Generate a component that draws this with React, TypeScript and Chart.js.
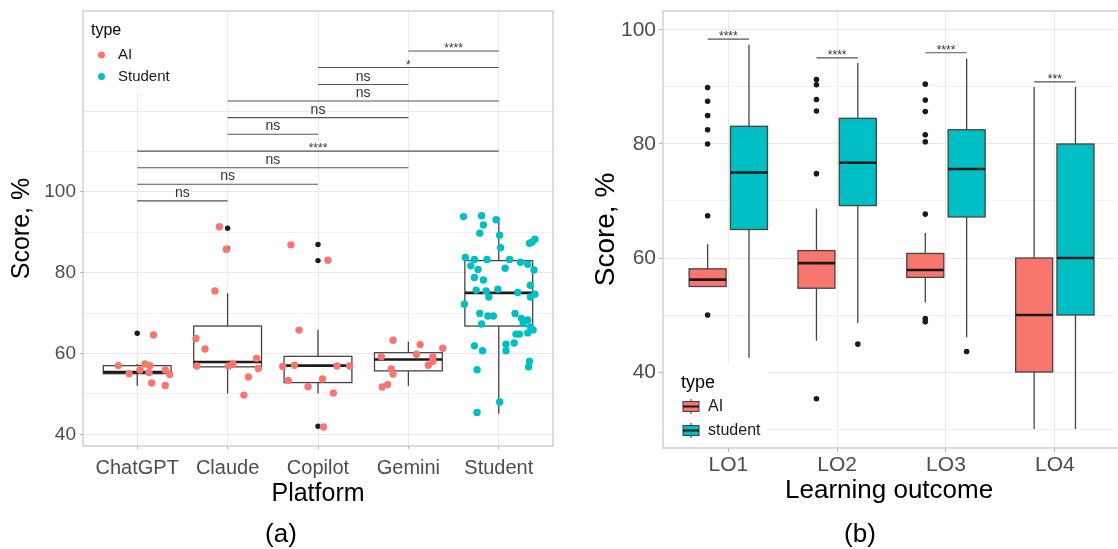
import React, { useEffect, useRef } from 'react';
import { Chart, registerables } from 'chart.js';

Chart.register(...registerables);

const FONT = "'Liberation Sans', Arial, Helvetica, sans-serif";
const AI_COLOR = '#F8766D';
const STU_COLOR = '#00BFC4';

// ---------- Panel (a) data ----------
const platforms = ['ChatGPT', 'Claude', 'Copilot', 'Gemini', 'Student'];
const boxLowA = [52.0, 50.1, 50.1, 52.0, 45.1];
const boxQ1A = [55.0, 56.7, 52.8, 55.7, 66.8];
const boxMedA = [55.4, 57.9, 57.0, 58.5, 75.0];
const boxQ3A = [57.0, 66.8, 59.3, 60.2, 83.0];
const boxHighA = [57.4, 74.9, 65.9, 62.9, 93.7];
const outliersA = [[65.0], [91.0, 86.0], [87.0, 83.0, 42.0], [], []];

const chatgptScores = [57.0, 55.0, 55.9, 57.4, 57.0, 55.3, 52.7, 64.6, 55.9, 52.1, 54.8];
const chatgptJitter = [-0.21, -0.09, 0.03, 0.085, 0.14, 0.13, 0.16, 0.18, 0.31, 0.31, 0.36];
const claudeScores = [63.7, 61.1, 56.9, 75.5, 91.4, 85.8, 56.9, 57.4, 49.7, 54.2, 58.8, 56.3];
const claudeJitter = [-0.35, -0.25, -0.34, -0.14, -0.09, -0.015, 0.01, 0.06, 0.18, 0.23, 0.32, 0.34];
const copilotScores = [56.8, 53.3, 86.9, 57.1, 65.8, 51.8, 53.7, 41.8, 83.1, 50.2, 56.9, 56.9];
const copilotJitter = [-0.39, -0.33, -0.30, -0.26, -0.21, -0.11, 0.05, 0.06, 0.11, 0.17, 0.21, 0.35];
const geminiScores = [59.2, 51.7, 52.3, 56.2, 54.9, 63.3, 59.8, 62.2, 57.1, 58.1, 59.2, 61.3];
const geminiJitter = [-0.30, -0.29, -0.23, -0.19, -0.17, -0.17, 0.09, 0.13, 0.22, 0.27, 0.27, 0.38];
const studentScores = [
  93.9, 94.1, 91.8, 93.1, 89.8, 89.3, 86.2, 87.3, 87.6, 88.3,
  83.8, 83.3, 83.3, 83.3, 82.6, 82.1, 81.7, 80.8, 81.1, 80.7,
  78.8, 78.2, 76.9, 75.7, 75.5, 75.9, 75.1, 74.0, 74.0, 74.7,
  72.2, 69.9, 69.3, 69.3, 69.9, 68.7, 68.3, 67.3, 67.4, 66.6,
  65.8, 64.8, 64.8, 65.1, 61.9, 60.7, 62.3, 60.7, 62.6, 58.1,
  56.7, 56.0, 48.0, 45.4,
];
const studentJitter = [
  -0.39, -0.19, -0.17, -0.03, -0.21, 0.01, 0.02, 0.34, 0.37, 0.40,
  -0.37, -0.27, -0.13, 0.12, 0.24, 0.32, -0.31, -0.23, 0.07, 0.39,
  -0.27, -0.17, 0.35, -0.25, -0.14, -0.01, 0.21, -0.11, 0.35, 0.40,
  -0.38, -0.21, -0.12, -0.06, 0.18, 0.25, 0.32, -0.19, 0.27, 0.35,
  0.38, 0.19, 0.23, 0.32, -0.27, -0.18, 0.08, 0.08, 0.17, 0.34,
  0.33, -0.24, 0.01, -0.24,
];
const aiScoresA = [chatgptScores, claudeScores, copilotScores, geminiScores];
const aiJitterA = [chatgptJitter, claudeJitter, copilotJitter, geminiJitter];

const bracketPairsA = [[1, 2], [1, 3], [1, 4], [1, 5], [2, 3], [2, 4], [2, 5], [3, 4], [3, 5], [4, 5]];
const bracketYA = [97.8, 101.9, 106.0, 110.1, 114.3, 118.4, 122.5, 126.6, 130.8, 134.9];
const bracketLabelsA = ['ns', 'ns', 'ns', '****', 'ns', 'ns', 'ns', 'ns', '*', '****'];
const yTicksA = [40, 50, 60, 70, 80, 90, 100, 110, 120];

// ---------- Panel (b) data ----------
const outcomes = ['LO1', 'LO2', 'LO3', 'LO4'];
const aiLowB = [55.0, 45.5, 52.2, 30.0];
const aiQ1B = [55.0, 54.7, 56.6, 40.0];
const aiMedB = [56.2, 59.1, 57.9, 50.0];
const aiQ3B = [58.1, 61.3, 60.8, 60.0];
const aiHighB = [62.4, 68.7, 64.4, 90.0];
const stuLowB = [42.5, 48.6, 46.1, 30.0];
const stuQ1B = [65.0, 69.2, 67.2, 50.0];
const stuMedB = [75.0, 76.7, 75.6, 60.0];
const stuQ3B = [83.1, 84.5, 82.5, 80.0];
const stuHighB = [97.4, 94.2, 95.0, 90.0];
const aiOutliersB = [
  [89.9, 87.5, 85.0, 82.5, 80.0, 67.4, 50.0],
  [91.3, 90.4, 87.8, 85.8, 74.8, 35.3],
  [90.5, 87.7, 85.7, 81.6, 80.4, 67.7, 49.4, 48.8],
  [],
];
const stuOutliersB = [[], [44.9], [43.6], []];
const bracketYB = [98.4, 95.1, 96.0, 90.9];
const bracketLabelsB = ['****', '****', '****', '***'];
const yTicksB = [30, 40, 50, 60, 70, 80, 90, 100];

const DODGE = 0.19;

function drawBox(ctx: any, xs: any, ys: any, cx: number, hw: number,
  low: number, q1: number, med: number, q3: number, high: number, fill: string) {
  const xl = xs.getPixelForValue(cx - hw);
  const xr = xs.getPixelForValue(cx + hw);
  const xc = xs.getPixelForValue(cx);
  const yLow = ys.getPixelForValue(low);
  const yQ1 = ys.getPixelForValue(q1);
  const yMed = ys.getPixelForValue(med);
  const yQ3 = ys.getPixelForValue(q3);
  const yHigh = ys.getPixelForValue(high);
  ctx.strokeStyle = '#444444';
  ctx.lineWidth = 1.3;
  ctx.beginPath();
  ctx.moveTo(xc, yHigh); ctx.lineTo(xc, yQ3);
  ctx.moveTo(xc, yQ1); ctx.lineTo(xc, yLow);
  ctx.stroke();
  ctx.fillStyle = fill;
  ctx.fillRect(xl, yQ3, xr - xl, yQ1 - yQ3);
  ctx.strokeRect(xl, yQ3, xr - xl, yQ1 - yQ3);
  ctx.strokeStyle = '#1A1A1A';
  ctx.lineWidth = 2.6;
  ctx.beginPath();
  ctx.moveTo(xl, yMed); ctx.lineTo(xr, yMed);
  ctx.stroke();
}

function clipArea(ctx: any, a: any) {
  ctx.beginPath();
  ctx.rect(a.left, a.top, a.right - a.left, a.bottom - a.top);
  ctx.clip();
}

function drawBracket(ctx: any, x1: number, x2: number, y: number, label: string) {
  ctx.strokeStyle = '#555555';
  ctx.lineWidth = 1.1;
  ctx.beginPath();
  ctx.moveTo(x1, y); ctx.lineTo(x2, y);
  ctx.stroke();
  ctx.fillStyle = '#333333';
  ctx.textAlign = 'center';
  ctx.textBaseline = 'alphabetic';
  if (label.startsWith('*')) {
    ctx.font = `12px ${FONT}`;
    ctx.fillText(label, (x1 + x2) / 2, y + 1);
  } else {
    ctx.font = `14px ${FONT}`;
    ctx.fillText(label, (x1 + x2) / 2, y - 4);
  }
}

function drawBorder(ctx: any, a: any, extendRight: number) {
  ctx.strokeStyle = '#CDCDCD';
  ctx.lineWidth = 1.4;
  ctx.strokeRect(a.left, a.top, a.right - a.left + extendRight, a.bottom - a.top);
}

function buildChartA(canvas: HTMLCanvasElement) {
  const aiPoints = aiScoresA.flatMap((arr, i) => arr.map((v, j) => ({ x: i + 1 + aiJitterA[i][j], y: v })));
  const stuPoints = studentScores.map((v, j) => ({ x: 5 + studentJitter[j], y: v }));
  const outPoints = outliersA.flatMap((arr, i) => arr.map((v) => ({ x: i + 1, y: v })));

  const boxPlugin = {
    id: 'boxesA',
    beforeDatasetsDraw(chart: any) {
      const { ctx, chartArea, scales } = chart;
      ctx.save();
      clipArea(ctx, chartArea);
      platforms.forEach((_, i) => drawBox(ctx, scales.x, scales.y, i + 1, 0.375,
        boxLowA[i], boxQ1A[i], boxMedA[i], boxQ3A[i], boxHighA[i], '#FFFFFF'));
      ctx.restore();
    },
    afterDatasetsDraw(chart: any) {
      const { ctx, chartArea, scales } = chart;
      ctx.save();
      bracketPairsA.forEach(([i, j], k) => {
        drawBracket(ctx, scales.x.getPixelForValue(i), scales.x.getPixelForValue(j),
          scales.y.getPixelForValue(bracketYA[k]), bracketLabelsA[k]);
      });
      drawBorder(ctx, chartArea, 0);
      ctx.restore();
    },
    afterDraw(chart: any) {
      const { ctx, chartArea } = chart;
      const L = chartArea.left, T = chartArea.top;
      ctx.save();
      ctx.fillStyle = '#FFFFFF';
      ctx.fillRect(L + 1, T + 1, 92, 81);
      ctx.fillStyle = '#000000';
      ctx.textBaseline = 'middle';
      ctx.textAlign = 'left';
      ctx.font = `16px ${FONT}`;
      ctx.fillText('type', L + 8, T + 20);
      const items = [
        { label: chart.data.datasets[0].label, color: AI_COLOR },
        { label: chart.data.datasets[1].label, color: STU_COLOR },
      ];
      items.forEach((it, k) => {
        const cy = T + 44 + k * 21.5;
        ctx.fillStyle = it.color;
        ctx.beginPath();
        ctx.arc(L + 18.5, cy, 3.5, 0, Math.PI * 2);
        ctx.fill();
        ctx.fillStyle = '#1A1A1A';
        ctx.font = `15px ${FONT}`;
        ctx.fillText(it.label, L + 35, cy);
      });
      ctx.restore();
    },
  };

  return new Chart(canvas, {
    type: 'scatter',
    data: {
      datasets: [
        { label: 'AI', data: aiPoints, backgroundColor: AI_COLOR, borderWidth: 0, pointRadius: 3.7, pointHoverRadius: 3.7 },
        { label: 'Student', data: stuPoints, backgroundColor: STU_COLOR, borderWidth: 0, pointRadius: 3.7, pointHoverRadius: 3.7 },
        { label: 'outliers', data: outPoints, backgroundColor: '#1A1A1A', borderWidth: 0, pointRadius: 2.7, pointHoverRadius: 2.7 },
      ],
    },
    options: {
      animation: false,
      responsive: false,
      devicePixelRatio: 1,
      events: [],
      layout: { padding: { top: 11, right: 27, left: 0, bottom: 31 } },
      plugins: { legend: { display: false }, tooltip: { enabled: false }, title: { display: false } },
      scales: {
        x: {
          type: 'linear',
          min: 0.4,
          max: 5.6,
          afterBuildTicks: (s: any) => { s.ticks = platforms.map((_, i) => ({ value: i + 1 })); },
          afterFit: (s: any) => { s.height = 72; s.paddingLeft = 0; s.paddingRight = 0; },
          ticks: {
            callback: (v: any) => platforms[Math.round(Number(v)) - 1] ?? '',
            font: { family: FONT, size: 20 },
            color: '#4D4D4D',
            padding: 7,
            maxRotation: 0,
            autoSkip: false,
          },
          grid: { color: '#EBEBEB', lineWidth: 1, tickLength: 3, tickColor: '#B3B3B3' },
          border: { display: false },
          title: { display: true, text: 'Platform', font: { family: FONT, size: 25 }, color: '#000000', padding: { top: 0, bottom: 9 } },
        },
        y: {
          type: 'linear',
          min: 37.1,
          max: 144.8,
          afterBuildTicks: (s: any) => { s.ticks = yTicksA.map((v) => ({ value: v })); },
          afterFit: (s: any) => { s.width = 83; s.paddingTop = 0; s.paddingBottom = 0; },
          ticks: {
            callback: (v: any) => (Number(v) % 20 === 0 && Number(v) <= 100 ? String(v) : ''),
            font: { family: FONT, size: 19 },
            color: '#4D4D4D',
            padding: 4,
          },
          grid: {
            color: (c: any) => (c.tick && c.tick.value % 20 === 0 ? '#E8E8E8' : '#F2F2F2'),
            lineWidth: 1,
            tickLength: 3,
            tickColor: (c: any) => (c.tick && c.tick.value % 20 === 0 && c.tick.value <= 100 ? '#B3B3B3' : 'rgba(0,0,0,0)'),
          },
          border: { display: false },
          title: { display: true, text: 'Score, %', font: { family: FONT, size: 25 }, color: '#000000', padding: { top: 7, bottom: 0 } },
        },
      },
    },
    plugins: [boxPlugin],
  } as any);
}

function buildChartB(canvas: HTMLCanvasElement) {
  const aiOut = aiOutliersB.flatMap((arr, i) => arr.map((v) => ({ x: i + 1 - DODGE, y: v })));
  const stuOut = stuOutliersB.flatMap((arr, i) => arr.map((v) => ({ x: i + 1 + DODGE, y: v })));

  const boxPlugin = {
    id: 'boxesB',
    beforeDatasetsDraw(chart: any) {
      const { ctx, chartArea, scales } = chart;
      ctx.save();
      clipArea(ctx, chartArea);
      outcomes.forEach((_, i) => {
        drawBox(ctx, scales.x, scales.y, i + 1 - DODGE, 0.17,
          aiLowB[i], aiQ1B[i], aiMedB[i], aiQ3B[i], aiHighB[i], AI_COLOR);
        drawBox(ctx, scales.x, scales.y, i + 1 + DODGE, 0.17,
          stuLowB[i], stuQ1B[i], stuMedB[i], stuQ3B[i], stuHighB[i], STU_COLOR);
      });
      ctx.restore();
    },
    afterDatasetsDraw(chart: any) {
      const { ctx, chartArea, scales } = chart;
      ctx.save();
      outcomes.forEach((_, i) => {
        drawBracket(ctx, scales.x.getPixelForValue(i + 1 - DODGE), scales.x.getPixelForValue(i + 1 + DODGE),
          scales.y.getPixelForValue(bracketYB[i]), bracketLabelsB[i]);
      });
      drawBorder(ctx, chartArea, 6);
      ctx.restore();
    },
    afterDraw(chart: any) {
      const { ctx, chartArea } = chart;
      const L = chartArea.left, B = chartArea.bottom;
      ctx.save();
      ctx.fillStyle = '#FFFFFF';
      ctx.fillRect(L + 1, B - 83, 104, 82);
      ctx.fillStyle = '#000000';
      ctx.textBaseline = 'middle';
      ctx.textAlign = 'left';
      ctx.font = `18px ${FONT}`;
      ctx.fillText('type', L + 18, B - 65);
      const items = [
        { label: chart.data.datasets[0].label, color: AI_COLOR },
        { label: chart.data.datasets[1].label, color: STU_COLOR },
      ];
      items.forEach((it, k) => {
        const cy = B - 41.5 + k * 24;
        const kx = L + 20, kw = 16, kh = 10;
        ctx.strokeStyle = '#444444';
        ctx.lineWidth = 1.1;
        ctx.beginPath();
        ctx.moveTo(kx + kw / 2, cy - kh / 2 - 2.5); ctx.lineTo(kx + kw / 2, cy - kh / 2);
        ctx.moveTo(kx + kw / 2, cy + kh / 2); ctx.lineTo(kx + kw / 2, cy + kh / 2 + 2.5);
        ctx.stroke();
        ctx.fillStyle = it.color;
        ctx.fillRect(kx, cy - kh / 2, kw, kh);
        ctx.strokeRect(kx, cy - kh / 2, kw, kh);
        ctx.lineWidth = 2;
        ctx.strokeStyle = '#1A1A1A';
        ctx.beginPath();
        ctx.moveTo(kx, cy); ctx.lineTo(kx + kw, cy);
        ctx.stroke();
        ctx.fillStyle = '#1A1A1A';
        ctx.font = `16px ${FONT}`;
        ctx.fillText(it.label, L + 45, cy);
      });
      ctx.restore();
    },
  };

  return new Chart(canvas, {
    type: 'scatter',
    data: {
      datasets: [
        { label: 'AI', data: aiOut, backgroundColor: '#1A1A1A', borderWidth: 0, pointRadius: 2.8, pointHoverRadius: 2.8 },
        { label: 'student', data: stuOut, backgroundColor: '#1A1A1A', borderWidth: 0, pointRadius: 2.8, pointHoverRadius: 2.8 },
      ],
    },
    options: {
      animation: false,
      responsive: false,
      devicePixelRatio: 1,
      events: [],
      layout: { padding: { top: 11, right: 0, left: 0, bottom: 31 } },
      plugins: { legend: { display: false }, tooltip: { enabled: false }, title: { display: false } },
      scales: {
        x: {
          type: 'linear',
          min: 0.4,
          max: 4.555,
          afterBuildTicks: (s: any) => { s.ticks = outcomes.map((_, i) => ({ value: i + 1 })); },
          afterFit: (s: any) => { s.height = 70; s.paddingLeft = 0; s.paddingRight = 0; },
          ticks: {
            callback: (v: any) => outcomes[Math.round(Number(v)) - 1] ?? '',
            font: { family: FONT, size: 21 },
            color: '#4D4D4D',
            padding: 1,
            maxRotation: 0,
            autoSkip: false,
          },
          grid: { color: '#EBEBEB', lineWidth: 1, tickLength: 4, tickColor: '#B3B3B3' },
          border: { display: false },
          title: { display: true, text: 'Learning outcome', font: { family: FONT, size: 26 }, color: '#000000', padding: { top: 0, bottom: 12 } },
        },
        y: {
          type: 'linear',
          min: 26.67,
          max: 103.33,
          afterBuildTicks: (s: any) => { s.ticks = yTicksB.map((v) => ({ value: v })); },
          afterFit: (s: any) => { s.width = 83; s.paddingTop = 0; s.paddingBottom = 0; },
          ticks: {
            callback: (v: any) => (Number(v) % 20 === 0 ? String(v) : ''),
            font: { family: FONT, size: 21 },
            color: '#4D4D4D',
            padding: 3,
          },
          grid: {
            color: (c: any) => (c.tick && c.tick.value % 20 === 0 ? '#E8E8E8' : '#F2F2F2'),
            lineWidth: 1,
            tickLength: 4,
            tickColor: (c: any) => (c.tick && c.tick.value % 20 === 0 ? '#B3B3B3' : 'rgba(0,0,0,0)'),
          },
          border: { display: false },
          title: { display: true, text: 'Score, %', font: { family: FONT, size: 28 }, color: '#000000', padding: { top: 9, bottom: 0 } },
        },
      },
    },
    plugins: [boxPlugin],
  } as any);
}

const captionStyle = (cx: number): React.CSSProperties => ({
  position: 'absolute',
  left: cx - 40,
  width: 80,
  top: 518,
  height: 30,
  lineHeight: '30px',
  textAlign: 'center',
  fontFamily: FONT,
  fontSize: 26,
  color: '#000000',
});

export default function App() {
  const refA = useRef<HTMLCanvasElement>(null);
  const refB = useRef<HTMLCanvasElement>(null);
  useEffect(() => {
    document.body.style.margin = '0';
    const a = buildChartA(refA.current as HTMLCanvasElement);
    const b = buildChartB(refB.current as HTMLCanvasElement);
    return () => { a.destroy(); b.destroy(); };
  }, []);
  return (
    <div style={{ position: 'relative', width: 1118, height: 549, overflow: 'hidden', background: '#FFFFFF' }}>
      <canvas ref={refA} width={580} height={549} style={{ position: 'absolute', left: 0, top: 0 }} />
      <canvas ref={refB} width={538} height={549} style={{ position: 'absolute', left: 580, top: 0 }} />
      <div style={captionStyle(281)}>(a)</div>
      <div style={captionStyle(860)}>(b)</div>
    </div>
  );
}
